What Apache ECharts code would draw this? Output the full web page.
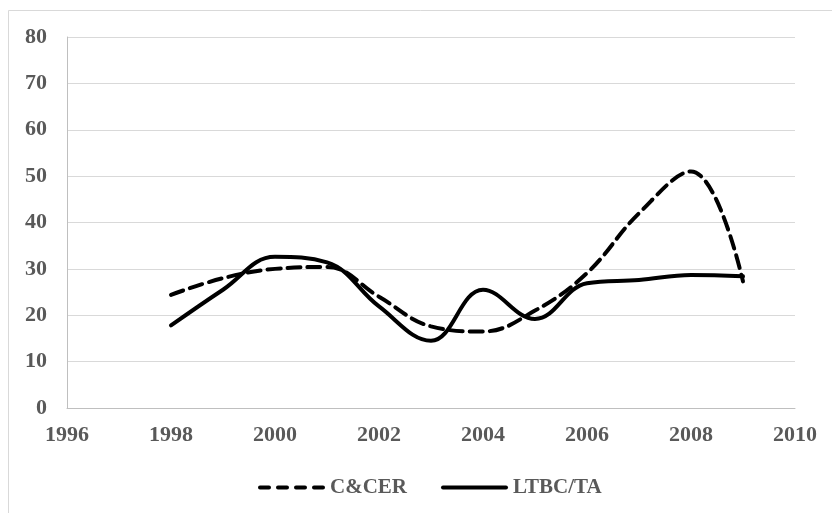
<!DOCTYPE html>
<html>
<head>
<meta charset="utf-8">
<script src="https://cdn.jsdelivr.net/npm/echarts@6/dist/echarts.min.js"></script>
<style>html,body{margin:0;padding:0;background:#fff;}#c{width:832px;height:513px;}</style>
</head>
<body>
<div id="c"></div>
<script>
const years = [1998, 1999, 2000, 2001, 2002, 2003, 2004, 2005, 2006, 2007, 2008, 2009];
const ccer = [24.4, 28.0, 30.0, 30.4, 24.0, 17.6, 16.5, 21.0, 29.1, 42.0, 51.0, 27.3];
const ltbc = [17.8, 25.5, 32.6, 31.4, 21.9, 14.5, 25.5, 19.2, 26.9, 27.6, 28.7, 28.4];
const seriesNames = ['C&CER', 'LTBC/TA'];

const font = 'Liberation Serif';
const txt = '#595959';
const dashIcon = 'path://M2,0h9a2,2 0 0 1 0,4h-9a2,2 0 0 1 0,-4z M20,0h9a2,2 0 0 1 0,4h-9a2,2 0 0 1 0,-4z M38,0h9a2,2 0 0 1 0,4h-9a2,2 0 0 1 0,-4z M56,0h9a2,2 0 0 1 0,4h-9a2,2 0 0 1 0,-4z';
const solidIcon = 'path://M2,0h63a2,2 0 0 1 0,4h-63a2,2 0 0 1 0,-4z';
const chart = echarts.init(document.getElementById('c'));
chart.setOption({
  animation: false,
  backgroundColor: '#fff',
  graphic: [{
    type: 'rect', shape: {x: 8.5, y: 10.5, width: 830, height: 510},
    style: {fill: 'none', stroke: '#d9d9d9', lineWidth: 1}, silent: true
  }],
  grid: {left: 67, right: 37, top: 37, bottom: 105},
  xAxis: {
    type: 'value', min: 1996, max: 2010, interval: 2,
    axisLine: {show: true, lineStyle: {color: '#bfbfbf', width: 1}},
    axisTick: {show: false},
    splitLine: {show: false},
    axisLabel: {color: txt, fontFamily: font, fontWeight: 'bold', fontSize: 22, margin: 16,
      formatter: v => String(v)}
  },
  yAxis: {
    type: 'value', min: 0, max: 80, interval: 10,
    axisLine: {show: true, lineStyle: {color: '#bfbfbf', width: 1}},
    axisTick: {show: false},
    splitLine: {lineStyle: {color: '#d9d9d9', width: 1}},
    axisLabel: {color: txt, fontFamily: font, fontWeight: 'bold', fontSize: 22, margin: 20}
  },
  legend: {
    left: 253, top: 472,
    itemWidth: 67, itemHeight: 4, itemGap: 34,
    textStyle: {color: txt, fontFamily: font, fontWeight: 'bold', fontSize: 21},
    data: [
      {name: seriesNames[0], icon: dashIcon, itemStyle: {color: '#000'}},
      {name: seriesNames[1], icon: solidIcon, itemStyle: {color: '#000'}}
    ]
  },
  series: [
    {
      name: seriesNames[0], type: 'line', smooth: 0.4, symbol: 'none',
      lineStyle: {color: '#000', width: 4, type: [13, 7], cap: 'round'},
      itemStyle: {color: '#000'},
      data: years.map((y, i) => [y, ccer[i]])
    },
    {
      name: seriesNames[1], type: 'line', smooth: 0.4, symbol: 'none',
      lineStyle: {color: '#000', width: 4, type: 'solid', cap: 'round'},
      itemStyle: {color: '#000'},
      data: years.map((y, i) => [y, ltbc[i]])
    }
  ]
});
</script>
</body>
</html>
